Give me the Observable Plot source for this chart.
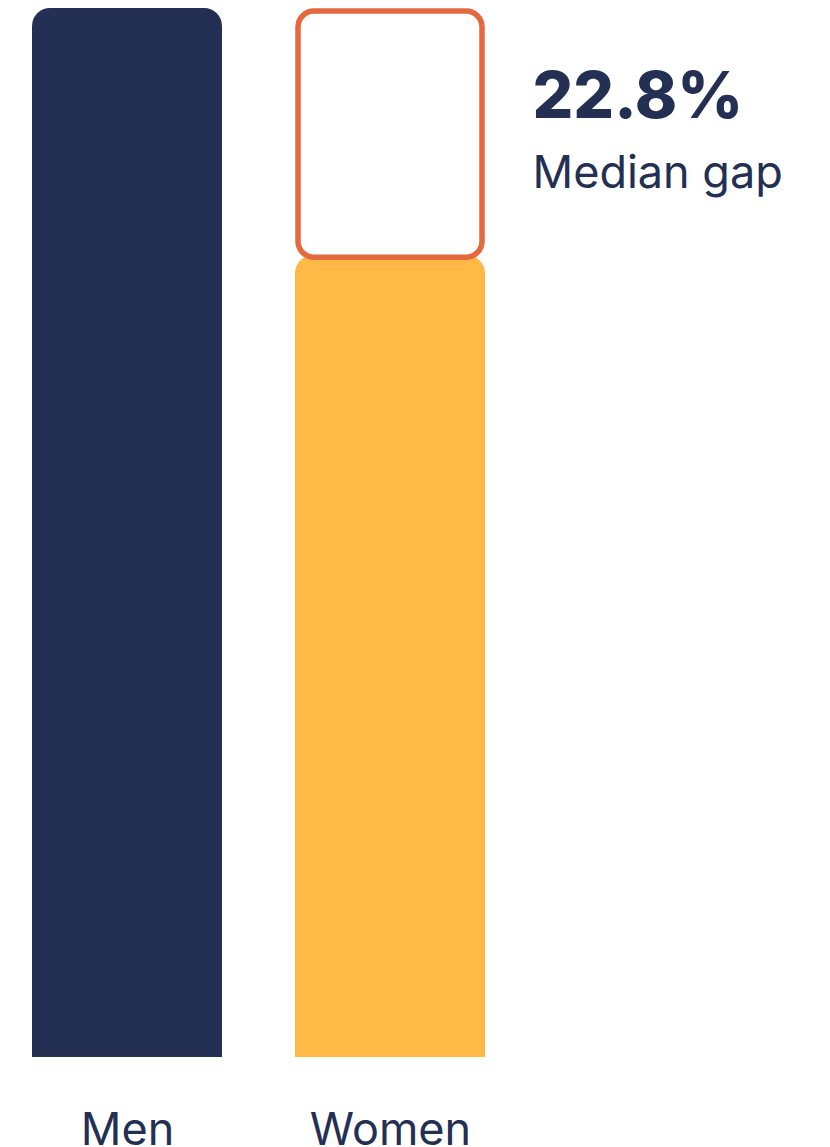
<!DOCTYPE html>
<html>
<head>
<meta charset="utf-8">
<script src="https://cdn.jsdelivr.net/npm/d3@7"></script>
<script src="https://cdn.jsdelivr.net/npm/@observablehq/plot@0.6"></script>
<style>
  html, body { margin: 0; padding: 0; background: #fff; overflow: hidden; }
  #chart svg { display: block; font-family: Inter, "Noto Sans", sans-serif; }
</style>
</head>
<body>
<div id="chart"></div>
<script>
const categories = ["Men", "Women"];
const values = [100, 77.2];
const gapValue = 22.8;
const gapLabel = "22.8%";
const gapCaption = "Median gap";
const colors = ["#232f53", "#feb947"];

const NAVY = "#232f53";
const ORANGE = "#e4693e";

const data = categories.map((c, i) => ({category: c, value: values[i], color: colors[i]}));
const men = data.filter(d => d.category === "Men");
const women = data.filter(d => d.category === "Women");
const gap = [{category: "Women", y1: values[1], y2: values[1] + gapValue}];

const chart = Plot.plot({
  width: 830,
  height: 1147,
  marginLeft: 31,
  marginRight: 344,
  marginTop: 8,
  marginBottom: 90,
  x: {domain: categories, paddingInner: 0.2765, paddingOuter: 0, label: null},
  y: {domain: [0, 100], axis: null},
  style: {fontFamily: "Inter, 'Noto Sans', sans-serif", color: NAVY},
  marks: [
    // rounded top bars
    Plot.barY(men, {x: "category", y: "value", fill: d => d.color, rx: 18}),
    Plot.barY(women, {x: "category", y: "value", fill: d => d.color, rx: 18, insetTop: 8}),
    // square off bottom corners
    Plot.barY(data, {x: "category", y: d => d.value / 2, fill: d => d.color}),
    // gap box
    Plot.rectY(gap, {x: "category", y1: "y1", y2: "y2", fill: "white", stroke: ORANGE, strokeWidth: 5.5, rx: 16, insetTop: 3, insetBottom: -10, insetLeft: 3, insetRight: 3}),
    // annotation
    Plot.text(gap, {x: "category", y: "y2", text: () => gapLabel, textAnchor: "start", lineAnchor: "bottom", dx: 142, dy: 109, fontSize: 64, fontWeight: 800, fill: NAVY}),
    Plot.text(gap, {x: "category", y: "y2", text: () => gapCaption, textAnchor: "start", lineAnchor: "bottom", dx: 142, dy: 179, fontSize: 45, fontWeight: 400, fill: NAVY}),
    Plot.axisX({tickSize: 0, tickPadding: 56, fontSize: 45, fill: NAVY, label: null})
  ]
});
document.getElementById("chart").appendChild(chart);
</script>
</body>
</html>
